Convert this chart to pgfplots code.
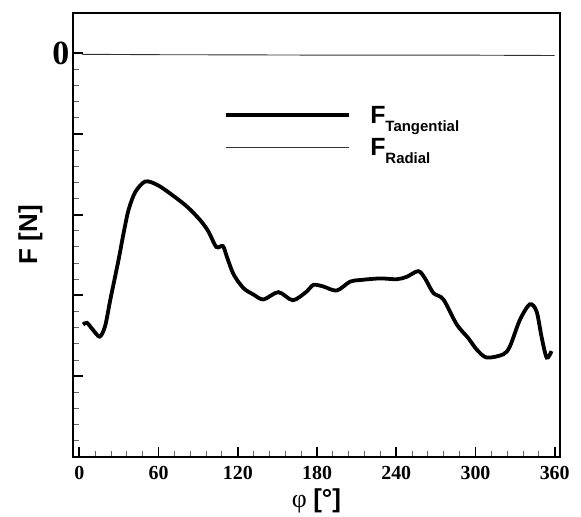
\documentclass[border=0pt]{standalone}
\usepackage{fontspec}
\setmainfont{Liberation Serif}
\setsansfont{Liberation Sans}
\newfontfamily\symfont{Liberation Serif}
\usepackage{pgfplots}
\pgfplotsset{compat=1.18}

\newcommand{\legF}[1]{{\sffamily\bfseries\fontsize{25}{25}\selectfont F\raisebox{-0.33em}{\fontsize{15}{15}\selectfont #1}}}

\begin{document}
\begin{tikzpicture}
\begin{axis}[
  scale only axis,
  width=487bp, height=444bp,
  xmin=-5, xmax=364,
  ymin=-5, ymax=0.5,
  xtick={0,60,...,360},
  ytick={-5,-4,-3,-2,-1,0},
  yticklabels={,,,,,0},
  minor x tick num=4,
  minor y tick num=4,
  tick pos=left,
  tick align=inside,
  major tick length=10bp,
  minor tick length=6bp,
  major tick style={line width=1.8bp, black},
  minor tick style={line width=1bp, black!60},
  axis line style={line width=1.8bp},
  /pgf/number format/assume math mode=true,
  xticklabel style={font=\bfseries\fontsize{20}{20}\selectfont, yshift=-6bp},
  yticklabel style={font=\bfseries\fontsize{34}{34}\selectfont},
  xlabel={{\symfont φ} {\sffamily\bfseries [°]}},
  ylabel={\sffamily\bfseries F [N]},
  xlabel style={font=\fontsize{26}{26}\selectfont, yshift=-2bp},
  ylabel style={font=\fontsize{26}{26}\selectfont, yshift=3bp},
  legend style={at={(axis cs:109.7,-0.64)}, anchor=north west, draw=none, fill=none,
    inner sep=0pt, row sep=12bp, column sep=18bp, nodes={inner sep=1bp}},
  legend cell align=left,
  legend image code/.code={\draw[#1] (0bp,0bp) -- (123bp,0bp);},
]
\addplot[line width=3.8bp, black, smooth] coordinates {
  (2.8,-3.36) (5.8,-3.34) (10,-3.42) (15.4,-3.51) (19.5,-3.38) (23.5,-3.05)
  (29.7,-2.56) (33.5,-2.23) (37.3,-1.94) (42.4,-1.72) (49.9,-1.59)
  (58.8,-1.63) (68.9,-1.74) (81.5,-1.90) (91.6,-2.07) (97.8,-2.21)
  (103.7,-2.40) (108.7,-2.39) (111.7,-2.52) (116.8,-2.74) (124.3,-2.91)
  (131.9,-2.99) (139.5,-3.05) (150.8,-2.96) (161.7,-3.06) (172.3,-2.95)
  (177.3,-2.87) (184.8,-2.89) (194.9,-2.94) (205,-2.83) (212.6,-2.81)
  (227.7,-2.79) (240.4,-2.80) (247.9,-2.77) (256.7,-2.70) (261.8,-2.79)
  (268.1,-2.97) (275.7,-3.05) (285.8,-3.36) (294.6,-3.53) (300.9,-3.67)
  (308.5,-3.77) (321,-3.73) (326.1,-3.63) (333.7,-3.30) (341.2,-3.11)
  (346.3,-3.20) (350,-3.51) (353.9,-3.77) (357.6,-3.69)
};
\addlegendentry{\legF{Tangential}}
\addplot[line width=0.9bp, black!80] coordinates {
  (2,-0.015) (60,-0.02) (120,-0.022) (180,-0.025) (240,-0.025) (300,-0.026) (360,-0.03)
};
\addlegendentry{\legF{Radial}}
\end{axis}
\path (current axis.south west) ++(-72.7bp,-59.3bp) coordinate (bl);
\path (current axis.north east) ++(21bp,12.7bp) coordinate (tr);
\path (bl) rectangle (tr);
\end{tikzpicture}
\end{document}
